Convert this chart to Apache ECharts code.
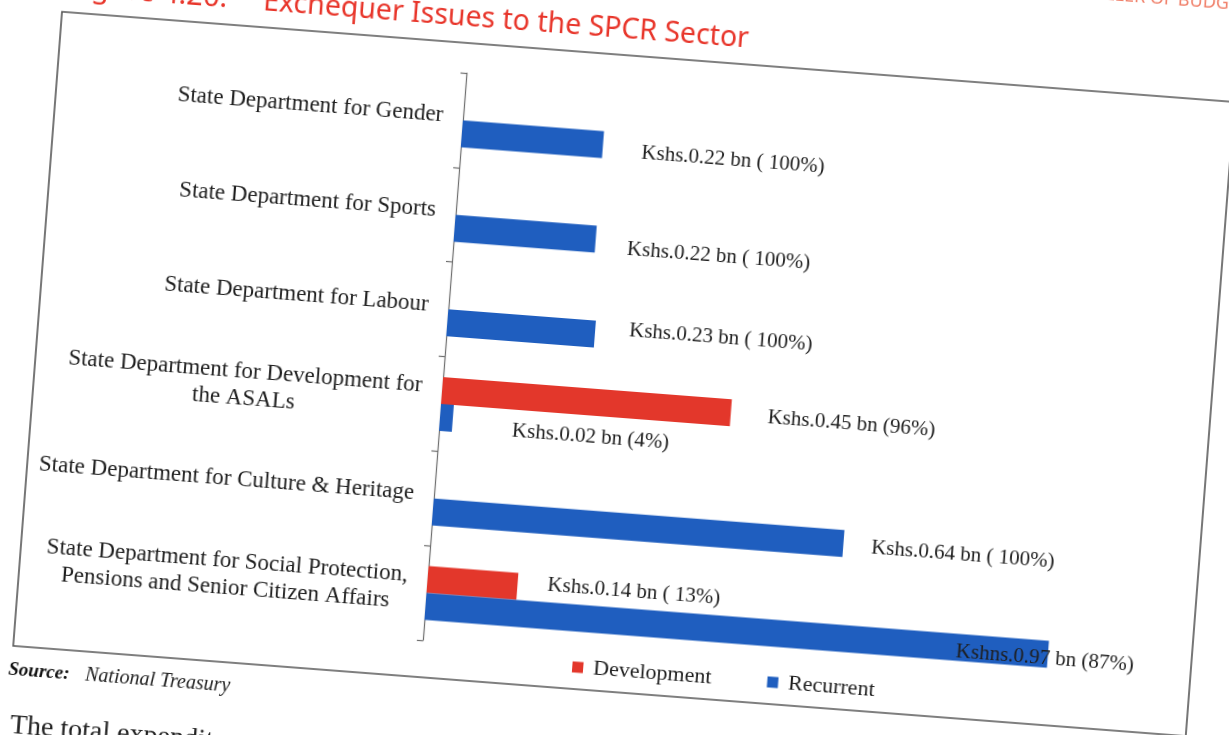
<!DOCTYPE html>
<html>
<head>
<meta charset="utf-8">
<title>Exchequer Issues to the SPCR Sector</title>
<script src="https://cdn.jsdelivr.net/npm/echarts@6/dist/echarts.min.js"></script>
<style>
  html, body { margin: 0; padding: 0; width: 1229px; height: 735px; overflow: hidden; background: #ffffff; }
  /* the printed page sits slightly tilted */
  #chart {
    position: absolute; left: -35px; top: -118px;
    width: 1400px; height: 960px;
    transform-origin: 100px 130px;
    transform: rotate(4.4deg);
  }
</style>
</head>
<body>
<div id="chart"></div>
<script>
// Departments, top to bottom
const categories = [
  'State Department for Gender',
  'State Department for Sports',
  'State Department for Labour',
  'State Department for Development for\nthe ASALs',
  'State Department for Culture & Heritage',
  'State Department for Social Protection,\nPensions and Senior Citizen Affairs'
];

// Exchequer issues, Kshs. billion
const development = [null, null, null, 0.45, null, 0.14];
const recurrent   = [0.22, 0.22, 0.23, 0.02, 0.64, 0.97];

// Share of each department's total, as printed
const developmentShare = ['', '', '', '(96%)', '', '( 13%)'];
const recurrentShare   = ['( 100%)', '( 100%)', '( 100%)', '(4%)', '( 100%)', '(87%)'];

// Currency prefix, as printed
const developmentPrefix = ['Kshs.', 'Kshs.', 'Kshs.', 'Kshs.', 'Kshs.', 'Kshs.'];
const recurrentPrefix   = ['Kshs.', 'Kshs.', 'Kshs.', 'Kshs.', 'Kshs.', 'Kshns.'];

const SERIF = '"Liberation Serif", "DejaVu Serif", serif';
const SANS = '"Noto Sans", "Open Sans", sans-serif';
const INK = '#1e1e1e';
const RED = '#E3372B';
const BLUE = '#1F5EBF';

// Where each value label sits relative to the end of its bar
const devLabelPlace = [null, null, null,
  { distance: 37, offset: [0, 2] }, null,
  { distance: 30, offset: [0, -4] }];
const recLabelPlace = [
  { distance: 39, offset: [0, 6] },
  { distance: 32, offset: [0, 8] },
  { distance: 34, offset: [0, -6] },
  { distance: 60, offset: [0, 8] },
  { distance: 28, offset: [0, 2] },
  { distance: 0, offset: [-92, 4] }
];

function valueText(prefix, share) {
  return function (p) {
    if (p.value == null) return '';
    return prefix[p.dataIndex] + Number(p.value).toFixed(2) + ' bn ' + share[p.dataIndex];
  };
}

function withPlacement(values, place) {
  return values.map(function (v, i) {
    return place[i] ? { value: v, label: place[i] } : { value: v };
  });
}

const chart = echarts.init(document.getElementById('chart'), null, { renderer: 'canvas' });

const option = {
  animation: false,
  backgroundColor: 'transparent',
  grid: { left: 505, top: 160, width: 708, height: 569, containLabel: false },
  xAxis: { type: 'value', min: 0, max: 1.1, show: false },
  yAxis: {
    type: 'category',
    inverse: true,
    data: categories,
    axisLine: { show: true, lineStyle: { color: '#6e6e6e', width: 1.2 } },
    axisTick: { show: true, length: 6, lineStyle: { color: '#6e6e6e', width: 1.2 } },
    splitLine: { show: false },
    axisLabel: {
      margin: 20,
      padding: [0, 0, 7, 0],
      formatter: function (v) {
        return v.split('\n').map(function (s) { return '{c|' + s + '}'; }).join('\n');
      },
      rich: {
        c: { align: 'center', fontFamily: SERIF, fontSize: 23, lineHeight: 27, color: INK }
      }
    }
  },
  legend: {
    data: ['Development', 'Recurrent'],
    left: 651, top: 728,
    icon: 'rect',
    itemWidth: 11, itemHeight: 11,
    itemGap: 56,
    textStyle: { fontFamily: SERIF, fontSize: 22, color: INK, padding: [0, 0, 0, 5] }
  },
  series: [
    {
      name: 'Development',
      type: 'bar',
      barWidth: 27,
      barGap: '0%',
      itemStyle: { color: RED },
      label: {
        show: true, position: 'right',
        fontFamily: SERIF, fontSize: 21, color: INK,
        formatter: valueText(developmentPrefix, developmentShare)
      },
      data: withPlacement(development, devLabelPlace)
    },
    {
      name: 'Recurrent',
      type: 'bar',
      barWidth: 27,
      barGap: '0%',
      itemStyle: { color: BLUE },
      label: {
        show: true, position: 'right',
        fontFamily: SERIF, fontSize: 21, color: INK,
        formatter: valueText(recurrentPrefix, recurrentShare)
      },
      data: withPlacement(recurrent, recLabelPlace)
    }
  ],
  graphic: [
    // frame around the figure
    {
      type: 'rect', silent: true, z: -1,
      shape: { x: 97, y: 130, width: 1176, height: 636 },
      style: { fill: 'none', stroke: '#555555', lineWidth: 1.6 }
    },
    // running page header
    {
      type: 'text', x: 1062, y: 33,
      style: { text: 'CONTROLLER OF BUDGET', fontFamily: SANS, fontSize: 18, fill: '#F0806A',
               textAlign: 'left', textVerticalAlign: 'middle' }
    },
    // figure number and caption
    {
      type: 'text', x: 261, y: 105,
      style: { text: 'Figure 4.20:', fontFamily: SANS, fontSize: 29, fill: '#E8352A',
               textAlign: 'right', textVerticalAlign: 'middle' }
    },
    {
      type: 'text', x: 297, y: 105,
      style: { text: 'Exchequer Issues to the SPCR Sector', fontFamily: SANS, fontSize: 28.5, fill: '#E8352A',
               textAlign: 'left', textVerticalAlign: 'middle' }
    },
    // source line
    {
      type: 'text', x: 94, y: 790,
      style: { text: 'Source:', fontFamily: SERIF, fontSize: 19, fontStyle: 'italic', fontWeight: 'bold',
               fill: '#111111', textAlign: 'left', textVerticalAlign: 'middle' }
    },
    {
      type: 'text', x: 171, y: 790,
      style: { text: 'National Treasury', fontFamily: SERIF, fontSize: 20, fontStyle: 'italic',
               fill: '#222222', textAlign: 'left', textVerticalAlign: 'middle' }
    },
    // start of the following paragraph
    {
      type: 'text', x: 100, y: 846,
      style: { text: 'The total expenditure', fontFamily: SERIF, fontSize: 28,
               fill: '#222222', textAlign: 'left', textVerticalAlign: 'middle' }
    }
  ]
};

chart.setOption(option);
</script>
</body>
</html>
